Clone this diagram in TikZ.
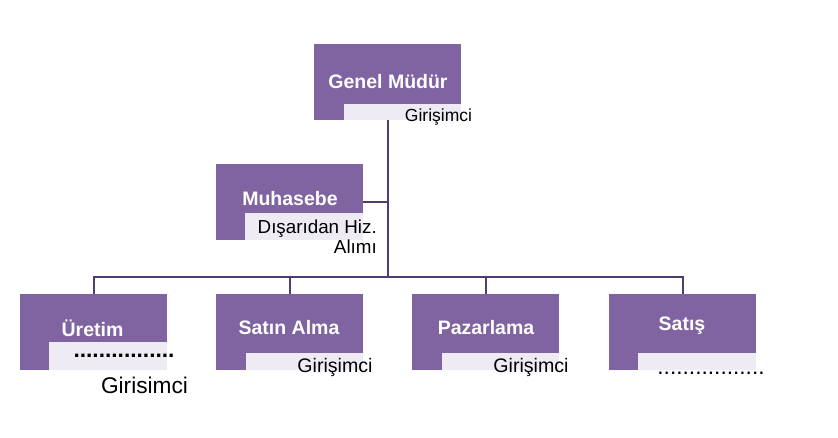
\documentclass[tikz,border=0pt]{standalone}
\usepackage{fontspec}
\setmainfont{Liberation Sans}
\definecolor{boxpurple}{HTML}{8064A2}
\definecolor{boxlight}{HTML}{EFEBF5}
\definecolor{linepurple}{HTML}{4F3D6F}
\begin{document}
\begin{tikzpicture}[x=1pt,y=-1pt,
  pbox/.style={fill=boxpurple, draw=none, minimum width=147pt, minimum height=76pt, inner sep=0pt, anchor=north west},
  lbox/.style={fill=boxlight, draw=none, inner sep=0pt, anchor=north west},
  title/.style={text=white, inner sep=0pt, font=\bfseries\fontsize{19.5}{22}\selectfont},
  sub/.style={text=black, inner sep=0pt},
  dotrow/.style={text=black, inner sep=0pt, anchor=base, text height=3pt, text depth=0pt, font=\fontsize{22.7}{24}\selectfont},
  conn/.style={draw=linepurple, line width=2pt}]
\useasboundingbox (0,0) rectangle (838,438);
% boxes
\node[pbox] (gm) at (314,44) {};
\node[lbox, minimum width=117pt, minimum height=16pt] (gml) at (344,104) {};
\node[pbox] (mu) at (216,164) {};
\node[lbox, minimum width=118pt, minimum height=27pt] (mul) at (245,213) {};
\node[pbox] (ur) at (20,294) {};
\node[lbox, minimum width=118pt, minimum height=28pt] (url) at (49,342) {};
\node[pbox] (sa) at (216,294) {};
\node[lbox, minimum width=117pt, minimum height=17pt] (sal) at (246,353) {};
\node[pbox] (pa) at (412,294) {};
\node[lbox, minimum width=117pt, minimum height=17pt] (pal) at (442,353) {};
\node[pbox] (st) at (609,294) {};
\node[lbox, minimum width=118pt, minimum height=17pt] (stl) at (638,353) {};
% titles
\node[title] (gmt) at (388,82) {Genel Müdür};
\node[title] (mut) at (290,199) {Muhasebe};
\node[title] (urt) at (92.5,328) {Üretim};
\node[title] (sat) at (289,328) {Satın Alma};
\node[title] (pat) at (486,328) {Pazarlama};
\node[title] (stt) at (682,326) {Satış};
% sub texts
\node[sub, font=\fontsize{17.5}{20}\selectfont] (gms) at (438.5,117) {Girişimci};
\node[sub, anchor=east, align=right, font=\fontsize{18.8}{20}\selectfont] (mus) at (377,237) {Dışarıdan Hiz.\\Alımı};
\node[sub, font=\fontsize{19.6}{22}\selectfont] (sas) at (335,367) {Girişimci};
\node[sub, font=\fontsize{19.6}{22}\selectfont] (pas) at (531,367) {Girişimci};
\node[sub, font=\fontsize{22.7}{24}\selectfont] (urs) at (144.5,385) {Girisimci};
\node[dotrow, font=\bfseries\fontsize{22.7}{24}\selectfont] (urd) at (124,357.5) {................};
\node[dotrow] (std) at (711,374.5) {.................};
% connectors
\coordinate (j) at (388,277);
\draw[conn] (gm.south) -- (gm.south |- j);
\draw[conn] (mu.east) -- (mu.east -| gm.south);
\draw[conn] (ur.north) -- (ur.north |- j) -- (st.north |- j) -- (st.north);
\draw[conn] (sa.north) -- (sa.north |- j);
\draw[conn] (pa.north) -- (pa.north |- j);
\end{tikzpicture}
\end{document}
